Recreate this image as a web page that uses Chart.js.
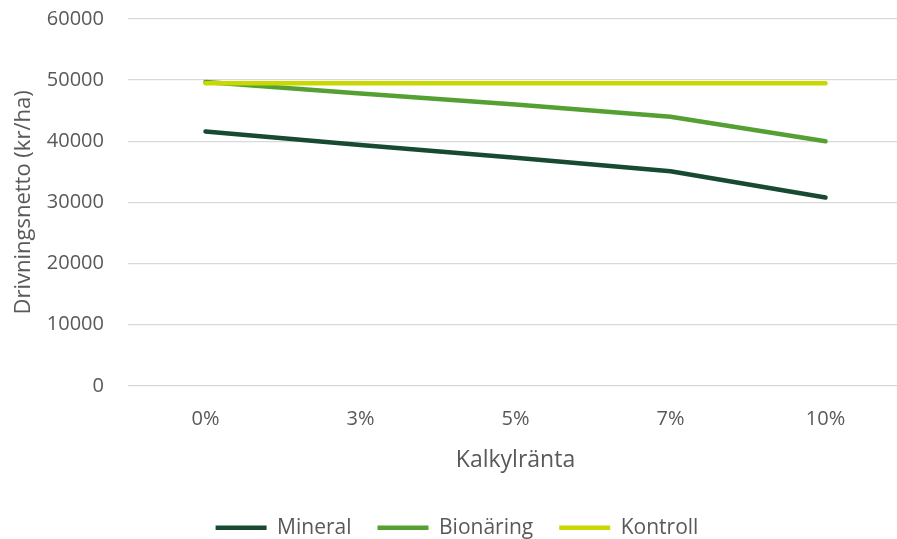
<!DOCTYPE html>
<html>
<head>
<meta charset="utf-8">
<script src="https://cdn.jsdelivr.net/npm/chart.js@4/dist/chart.umd.min.js"></script>
<style>
  html, body { margin: 0; padding: 0; background: #ffffff; overflow: hidden; }
  #wrap { width: 897px; height: 539px; overflow: hidden; }
  canvas { display: block; }
</style>
</head>
<body>
<div id="wrap"><canvas id="c" width="905" height="539"></canvas></div>
<script>
// Kalkylränta categories and drivningsnetto (kr/ha) per gödslingsstrategi
const categories = ['0%', '3%', '5%', '7%', '10%'];
const mineral   = [41600, 39400, 37300, 35100, 30800];
const bionaring = [49700, 47800, 46000, 44000, 40000];
const kontroll  = [49500, 49500, 49500, 49500, 49500];
const yTicks    = [0, 10000, 20000, 30000, 40000, 50000, 60000];

const textColor = '#595959';
const fontFamily = '"Open Sans", "Liberation Sans", sans-serif';

function series(label, data, color, order) {
  return {
    label, data, order,
    borderColor: color,
    backgroundColor: color,
    borderWidth: 4.5,
    borderCapStyle: 'round',
    borderJoinStyle: 'round',
    pointRadius: 0,
    pointHoverRadius: 0,
    tension: 0,
    fill: false
  };
}

new Chart(document.getElementById('c'), {
  type: 'line',
  data: {
    labels: categories,
    datasets: [
      series('Mineral', mineral, '#174a31', 3),
      series('Bionäring', bionaring, '#55a032', 2),
      series('Kontroll', kontroll, '#c9d800', 1)
    ]
  },
  options: {
    responsive: false,
    animation: false,
    layout: { autoPadding: false, padding: { left: 11, top: 0, right: 2, bottom: -9.25 } },
    plugins: {
      tooltip: { enabled: false },
      legend: {
        position: 'bottom',
        labels: {
          usePointStyle: true,
          pointStyle: 'line',
          pointStyleWidth: 51,
          color: textColor,
          font: { family: fontFamily, size: 21 },
          padding: 26,
          sort: (a, b) => a.datasetIndex - b.datasetIndex
        }
      }
    },
    scales: {
      x: {
        offset: true,
        grid: { display: false, drawTicks: false },
        border: { display: false },
        ticks: { color: textColor, font: { family: fontFamily, size: 20 }, padding: 21.5 },
        title: {
          display: true,
          text: 'Kalkylränta',
          color: textColor,
          font: { family: fontFamily, size: 23 },
          padding: { top: -6, bottom: 16.75 }
        }
      },
      y: {
        min: 0,
        max: 60000,
        afterBuildTicks: (axis) => { axis.ticks = yTicks.map(v => ({ value: v })); },
        // keep the top gridline close to the canvas edge
        afterFit: (axis) => { axis.paddingTop = 19; axis.paddingBottom = 12; },
        grid: { color: '#d9d9d9', lineWidth: 1.3, drawTicks: false },
        border: { display: false },
        ticks: {
          color: textColor,
          font: { family: fontFamily, size: 20 },
          padding: 24,
          callback: (v) => String(v)
        },
        title: {
          display: true,
          text: 'Drivningsnetto (kr/ha)',
          color: textColor,
          font: { family: fontFamily, size: 22 },
          padding: { top: 0, bottom: -14.6 }
        }
      }
    }
  }
});
</script>
</body>
</html>
